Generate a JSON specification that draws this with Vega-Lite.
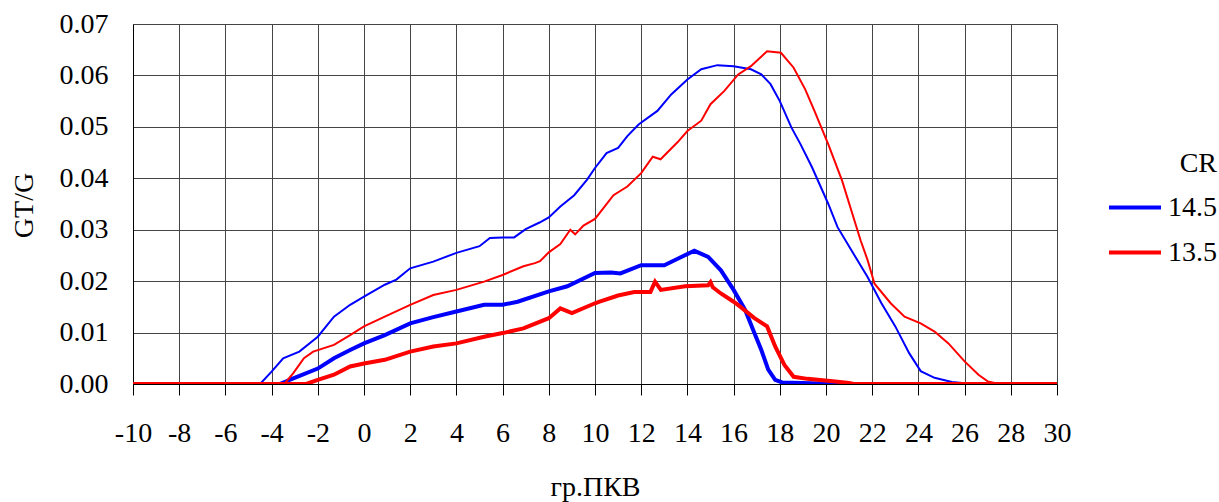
{
  "$schema": "https://vega.github.io/schema/vega-lite/v6.json",
  "width": 924,
  "height": 360,
  "autosize": "none",
  "padding": {"left": 133, "top": 24, "right": 162, "bottom": 118},
  "background": "white",
  "config": {
    "view": {"stroke": null},
    "font": "Liberation Serif",
    "axis": {"labelFont": "Liberation Serif", "titleFont": "Liberation Serif", "labelColor": "#000", "titleColor": "#000", "labelFontSize": 28, "titleFontSize": 28, "titleFontWeight": "normal", "gridColor": "#444", "gridWidth": 1, "gridOpacity": 1, "domainColor": "#000", "tickColor": "#000"},
    "legend": {"labelFont": "Liberation Serif", "titleFont": "Liberation Serif", "labelColor": "#000", "titleColor": "#000"}
  },
  "data": {"values": [
    {"s":"14.5","w":"thin","x":-10,"y":0},{"s":"14.5","w":"thin","x":-4.5,"y":0},{"s":"14.5","w":"thin","x":-4,"y":0.0024},{"s":"14.5","w":"thin","x":-3.5,"y":0.005},{"s":"14.5","w":"thin","x":-2.8,"y":0.0063},{"s":"14.5","w":"thin","x":-2,"y":0.0092},{"s":"14.5","w":"thin","x":-1.3,"y":0.0131},{"s":"14.5","w":"thin","x":-0.6,"y":0.0154},{"s":"14.5","w":"thin","x":0,"y":0.017},{"s":"14.5","w":"thin","x":0.9,"y":0.0193},{"s":"14.5","w":"thin","x":1.4,"y":0.0203},{"s":"14.5","w":"thin","x":2,"y":0.0225},{"s":"14.5","w":"thin","x":3,"y":0.0238},{"s":"14.5","w":"thin","x":4,"y":0.0255},{"s":"14.5","w":"thin","x":5,"y":0.0268},{"s":"14.5","w":"thin","x":5.45,"y":0.0284},{"s":"14.5","w":"thin","x":6,"y":0.0285},{"s":"14.5","w":"thin","x":6.5,"y":0.0285},{"s":"14.5","w":"thin","x":7,"y":0.0301},{"s":"14.5","w":"thin","x":7.6,"y":0.0314},{"s":"14.5","w":"thin","x":8,"y":0.0324},{"s":"14.5","w":"thin","x":8.5,"y":0.0345},{"s":"14.5","w":"thin","x":9.1,"y":0.0367},{"s":"14.5","w":"thin","x":9.65,"y":0.0397},{"s":"14.5","w":"thin","x":10,"y":0.042},{"s":"14.5","w":"thin","x":10.5,"y":0.0449},{"s":"14.5","w":"thin","x":11,"y":0.0459},{"s":"14.5","w":"thin","x":11.4,"y":0.0482},{"s":"14.5","w":"thin","x":11.9,"y":0.0505},{"s":"14.5","w":"thin","x":12.7,"y":0.0531},{"s":"14.5","w":"thin","x":13.3,"y":0.0563},{"s":"14.5","w":"thin","x":14,"y":0.0592},{"s":"14.5","w":"thin","x":14.6,"y":0.0612},{"s":"14.5","w":"thin","x":15.3,"y":0.062},{"s":"14.5","w":"thin","x":16,"y":0.0618},{"s":"14.5","w":"thin","x":16.75,"y":0.0612},{"s":"14.5","w":"thin","x":17.2,"y":0.0602},{"s":"14.5","w":"thin","x":17.6,"y":0.0583},{"s":"14.5","w":"thin","x":18,"y":0.055},{"s":"14.5","w":"thin","x":18.5,"y":0.0499},{"s":"14.5","w":"thin","x":18.9,"y":0.0466},{"s":"14.5","w":"thin","x":19.4,"y":0.0421},{"s":"14.5","w":"thin","x":20.1,"y":0.035},{"s":"14.5","w":"thin","x":20.5,"y":0.0305},{"s":"14.5","w":"thin","x":21.1,"y":0.026},{"s":"14.5","w":"thin","x":21.8,"y":0.0208},{"s":"14.5","w":"thin","x":22.4,"y":0.0157},{"s":"14.5","w":"thin","x":23,"y":0.0112},{"s":"14.5","w":"thin","x":23.6,"y":0.006},{"s":"14.5","w":"thin","x":24.1,"y":0.0025},{"s":"14.5","w":"thin","x":24.7,"y":0.0012},{"s":"14.5","w":"thin","x":25.45,"y":0.0004},{"s":"14.5","w":"thin","x":25.9,"y":0.0002},{"s":"14.5","w":"thin","x":27.3,"y":0},{"s":"14.5","w":"thin","x":30,"y":0},
    {"s":"14.5","w":"thick","x":-10,"y":0},{"s":"14.5","w":"thick","x":-3.65,"y":0},{"s":"14.5","w":"thick","x":-3.06,"y":0.0011},{"s":"14.5","w":"thick","x":-2,"y":0.003},{"s":"14.5","w":"thick","x":-1.3,"y":0.005},{"s":"14.5","w":"thick","x":-0.6,"y":0.0066},{"s":"14.5","w":"thick","x":0,"y":0.0079},{"s":"14.5","w":"thick","x":0.9,"y":0.0095},{"s":"14.5","w":"thick","x":2,"y":0.0118},{"s":"14.5","w":"thick","x":3,"y":0.013},{"s":"14.5","w":"thick","x":4,"y":0.0141},{"s":"14.5","w":"thick","x":5.2,"y":0.0154},{"s":"14.5","w":"thick","x":6,"y":0.0154},{"s":"14.5","w":"thick","x":6.65,"y":0.016},{"s":"14.5","w":"thick","x":8,"y":0.018},{"s":"14.5","w":"thick","x":8.8,"y":0.019},{"s":"14.5","w":"thick","x":10,"y":0.0216},{"s":"14.5","w":"thick","x":10.7,"y":0.0217},{"s":"14.5","w":"thick","x":11.1,"y":0.0215},{"s":"14.5","w":"thick","x":12,"y":0.0231},{"s":"14.5","w":"thick","x":13,"y":0.0231},{"s":"14.5","w":"thick","x":13.6,"y":0.0244},{"s":"14.5","w":"thick","x":14.3,"y":0.0259},{"s":"14.5","w":"thick","x":14.9,"y":0.0247},{"s":"14.5","w":"thick","x":15.45,"y":0.0221},{"s":"14.5","w":"thick","x":16,"y":0.0183},{"s":"14.5","w":"thick","x":16.5,"y":0.0144},{"s":"14.5","w":"thick","x":16.9,"y":0.0099},{"s":"14.5","w":"thick","x":17.2,"y":0.0066},{"s":"14.5","w":"thick","x":17.5,"y":0.0028},{"s":"14.5","w":"thick","x":17.8,"y":0.0008},{"s":"14.5","w":"thick","x":18.1,"y":0.0003},{"s":"14.5","w":"thick","x":19,"y":0.0002},{"s":"14.5","w":"thick","x":20.4,"y":0},{"s":"14.5","w":"thick","x":30,"y":0},
    {"s":"13.5","w":"thin","x":-10,"y":0},{"s":"13.5","w":"thin","x":-3.45,"y":0},{"s":"13.5","w":"thin","x":-3.06,"y":0.0021},{"s":"13.5","w":"thin","x":-2.6,"y":0.005},{"s":"13.5","w":"thin","x":-2.2,"y":0.0063},{"s":"13.5","w":"thin","x":-1.3,"y":0.0076},{"s":"13.5","w":"thin","x":-0.6,"y":0.0095},{"s":"13.5","w":"thin","x":0,"y":0.0112},{"s":"13.5","w":"thin","x":0.9,"y":0.0131},{"s":"13.5","w":"thin","x":2,"y":0.0154},{"s":"13.5","w":"thin","x":3,"y":0.0173},{"s":"13.5","w":"thin","x":4,"y":0.0183},{"s":"13.5","w":"thin","x":5.2,"y":0.0199},{"s":"13.5","w":"thin","x":6,"y":0.0212},{"s":"13.5","w":"thin","x":6.9,"y":0.0229},{"s":"13.5","w":"thin","x":7.4,"y":0.0235},{"s":"13.5","w":"thin","x":7.62,"y":0.0239},{"s":"13.5","w":"thin","x":8,"y":0.0256},{"s":"13.5","w":"thin","x":8.5,"y":0.0272},{"s":"13.5","w":"thin","x":8.93,"y":0.03},{"s":"13.5","w":"thin","x":9.14,"y":0.0291},{"s":"13.5","w":"thin","x":9.5,"y":0.0308},{"s":"13.5","w":"thin","x":10,"y":0.0321},{"s":"13.5","w":"thin","x":10.8,"y":0.0367},{"s":"13.5","w":"thin","x":11.4,"y":0.0384},{"s":"13.5","w":"thin","x":12,"y":0.041},{"s":"13.5","w":"thin","x":12.5,"y":0.0442},{"s":"13.5","w":"thin","x":12.84,"y":0.0437},{"s":"13.5","w":"thin","x":13.57,"y":0.047},{"s":"13.5","w":"thin","x":14,"y":0.0492},{"s":"13.5","w":"thin","x":14.6,"y":0.0512},{"s":"13.5","w":"thin","x":15,"y":0.0544},{"s":"13.5","w":"thin","x":15.6,"y":0.057},{"s":"13.5","w":"thin","x":16.2,"y":0.0602},{"s":"13.5","w":"thin","x":16.75,"y":0.0618},{"s":"13.5","w":"thin","x":17.45,"y":0.0647},{"s":"13.5","w":"thin","x":18.05,"y":0.0644},{"s":"13.5","w":"thin","x":18.6,"y":0.0615},{"s":"13.5","w":"thin","x":19.1,"y":0.0573},{"s":"13.5","w":"thin","x":19.5,"y":0.0531},{"s":"13.5","w":"thin","x":20.1,"y":0.0466},{"s":"13.5","w":"thin","x":20.7,"y":0.0395},{"s":"13.5","w":"thin","x":21.1,"y":0.0337},{"s":"13.5","w":"thin","x":21.5,"y":0.0279},{"s":"13.5","w":"thin","x":21.8,"y":0.0241},{"s":"13.5","w":"thin","x":22.1,"y":0.0195},{"s":"13.5","w":"thin","x":22.8,"y":0.0157},{"s":"13.5","w":"thin","x":23.4,"y":0.0131},{"s":"13.5","w":"thin","x":24.1,"y":0.0118},{"s":"13.5","w":"thin","x":24.7,"y":0.0102},{"s":"13.5","w":"thin","x":25.3,"y":0.0079},{"s":"13.5","w":"thin","x":26,"y":0.0044},{"s":"13.5","w":"thin","x":26.6,"y":0.0018},{"s":"13.5","w":"thin","x":27,"y":0.0005},{"s":"13.5","w":"thin","x":27.5,"y":0},{"s":"13.5","w":"thin","x":30,"y":0},
    {"s":"13.5","w":"thick","x":-10,"y":0},{"s":"13.5","w":"thick","x":-2.5,"y":0},{"s":"13.5","w":"thick","x":-2,"y":0.0008},{"s":"13.5","w":"thick","x":-1.3,"y":0.0018},{"s":"13.5","w":"thick","x":-0.6,"y":0.0034},{"s":"13.5","w":"thick","x":0,"y":0.004},{"s":"13.5","w":"thick","x":0.9,"y":0.0047},{"s":"13.5","w":"thick","x":2,"y":0.0063},{"s":"13.5","w":"thick","x":3,"y":0.0073},{"s":"13.5","w":"thick","x":4,"y":0.0079},{"s":"13.5","w":"thick","x":5.2,"y":0.0092},{"s":"13.5","w":"thick","x":6,"y":0.0099},{"s":"13.5","w":"thick","x":6.9,"y":0.0108},{"s":"13.5","w":"thick","x":8,"y":0.0128},{"s":"13.5","w":"thick","x":8.5,"y":0.0147},{"s":"13.5","w":"thick","x":9,"y":0.0138},{"s":"13.5","w":"thick","x":10,"y":0.0157},{"s":"13.5","w":"thick","x":10.2,"y":0.016},{"s":"13.5","w":"thick","x":11,"y":0.0172},{"s":"13.5","w":"thick","x":11.7,"y":0.0179},{"s":"13.5","w":"thick","x":12.4,"y":0.0179},{"s":"13.5","w":"thick","x":12.6,"y":0.0199},{"s":"13.5","w":"thick","x":12.85,"y":0.0183},{"s":"13.5","w":"thick","x":13.9,"y":0.019},{"s":"13.5","w":"thick","x":14.9,"y":0.0192},{"s":"13.5","w":"thick","x":15,"y":0.0198},{"s":"13.5","w":"thick","x":15.1,"y":0.0188},{"s":"13.5","w":"thick","x":15.45,"y":0.0176},{"s":"13.5","w":"thick","x":16,"y":0.016},{"s":"13.5","w":"thick","x":16.3,"y":0.015},{"s":"13.5","w":"thick","x":16.9,"y":0.0128},{"s":"13.5","w":"thick","x":17.45,"y":0.0112},{"s":"13.5","w":"thick","x":17.8,"y":0.0073},{"s":"13.5","w":"thick","x":18.2,"y":0.0037},{"s":"13.5","w":"thick","x":18.6,"y":0.0014},{"s":"13.5","w":"thick","x":19.2,"y":0.001},{"s":"13.5","w":"thick","x":20.4,"y":0.0005},{"s":"13.5","w":"thick","x":21,"y":0.0002},{"s":"13.5","w":"thick","x":21.2,"y":0},{"s":"13.5","w":"thick","x":30,"y":0}
  ]},
  "mark": {"type": "line", "clip": true},
  "encoding": {
    "x": {"field": "x", "type": "quantitative", "scale": {"domain": [-10, 30], "nice": false, "zero": false},
      "axis": {"values": [-10,-8,-6,-4,-2,0,2,4,6,8,10,12,14,16,18,20,22,24,26,28,30], "labelExpr": "toString(datum.value)", "tickSize": 11, "labelPadding": 24, "title": "гр.ПКВ", "titleX": 462, "titleY": 111, "titleBaseline": "alphabetic", "titleAnchor": "middle", "titleAlign": "center", "labelFlush": false, "labelOverlap": false}},
    "y": {"field": "y", "type": "quantitative", "scale": {"domain": [0, 0.07], "nice": false},
      "axis": {"values": [0,0.01,0.02,0.03,0.04,0.05,0.06,0.07], "format": ".2f", "ticks": false, "labelPadding": 25, "title": "GT/G", "titleX": -101, "titleY": 181, "titleAngle": -90, "titleBaseline": "alphabetic", "titleAlign": "center", "labelFlush": false, "labelOverlap": false}},
    "color": {"field": "s", "type": "nominal", "sort": null, "scale": {"domain": ["14.5", "13.5"], "range": ["#0000ff", "#ff0000"]},
      "legend": {"title": "CR", "orient": "none", "legendX": 974, "legendY": 126, "symbolType": "stroke", "symbolSize": 2704, "symbolStrokeWidth": 4, "clipHeight": 45, "rowPadding": 0, "labelFont": "Liberation Serif", "titleFont": "Liberation Serif", "labelFontSize": 28, "titleFontSize": 28, "titleFontWeight": "normal", "labelOffset": 5, "titleAnchor": "end", "titlePadding": 7}},
    "strokeWidth": {"field": "w", "type": "nominal", "scale": {"domain": ["thin", "thick"], "range": [2, 4]}, "legend": null},
    "detail": {"field": "w"},
    "order": {"field": "x", "type": "quantitative"}
  }
}
